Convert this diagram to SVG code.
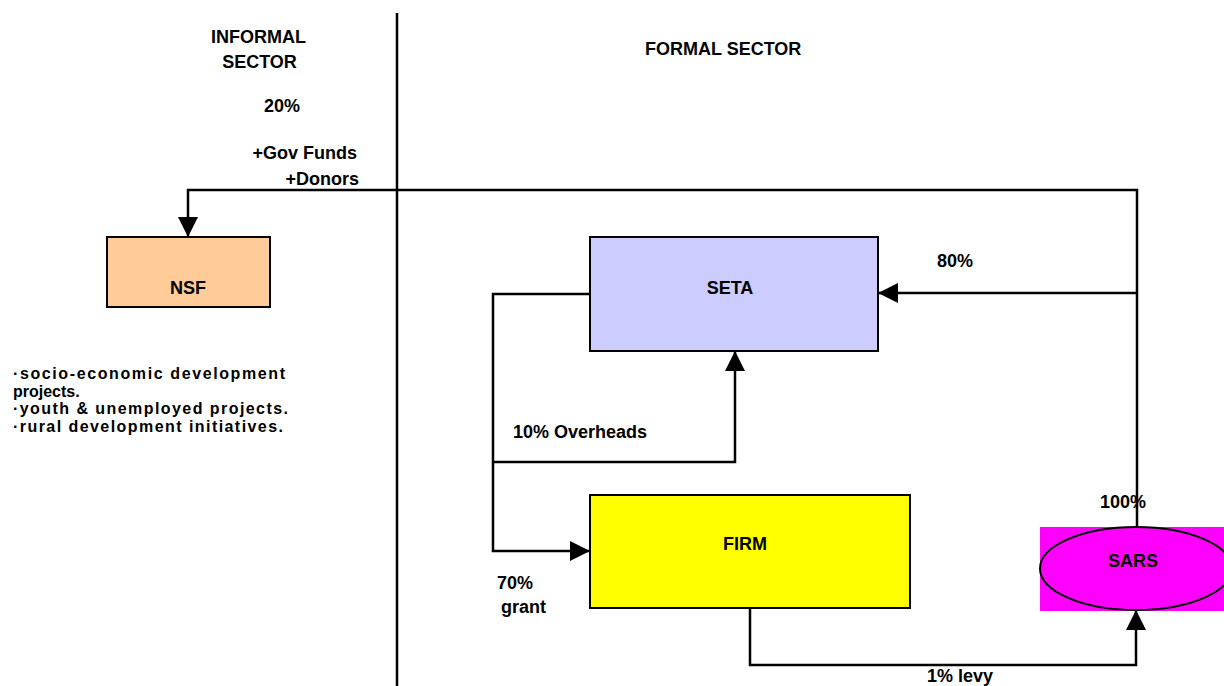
<svg xmlns="http://www.w3.org/2000/svg" width="1224" height="686" viewBox="0 0 1224 686">
<style>
.t{font-family:"Liberation Sans",Arial,sans-serif;font-weight:bold;font-size:18px;fill:#000}
.b{font-size:16px}
.c{text-anchor:middle}
.box{stroke:#000;stroke-width:2}
.ln{fill:none;stroke:#000;stroke-width:2.5}
</style>
<defs>
<marker id="ah" markerUnits="userSpaceOnUse" markerWidth="20" markerHeight="20" viewBox="0 0 20 20" refX="20" refY="10" orient="auto">
<path d="M0,0 L20,10 L0,20 Z" fill="#000"/>
</marker>
</defs>
<rect width="1224" height="686" fill="#fff"/>
<line x1="397" y1="13" x2="397" y2="686" stroke="#000" stroke-width="2.5"/>
<g id="labels">
<text class="t c" x="258.5" y="43">INFORMAL</text>
<text class="t c" x="259.5" y="68">SECTOR</text>
<text class="t c" x="282" y="112">20%</text>
<text class="t" x="357" y="159" text-anchor="end">+Gov Funds</text>
<text class="t" x="359" y="185" text-anchor="end">+Donors</text>
<text class="t" x="645" y="55" font-size="14">FORMAL SECTOR</text>
<text class="t b" x="13" y="379" textLength="272">·socio-economic development</text>
<text class="t b" x="13" y="396.5">projects.</text>
<text class="t b" x="13" y="414" textLength="275">·youth &amp; unemployed projects.</text>
<text class="t b" x="13" y="431.5" textLength="270">·rural development initiatives.</text>
<text class="t" x="937" y="267">80%</text>
<text class="t" x="513" y="438">10% Overheads</text>
<text class="t" x="497" y="589">70%</text>
<text class="t" x="501" y="613">grant</text>
<text class="t" x="1100" y="508">100%</text>
<text class="t" x="927" y="682">1% levy</text>
</g>
<g id="connectors">
<polyline class="ln" points="1137,527 1137,190 188,190 188,237" marker-end="url(#ah)"/>
<polyline class="ln" points="1137,293 878,293" marker-end="url(#ah)"/>
<polyline class="ln" points="590,294 493,294 493,551 590,551" marker-end="url(#ah)"/>
<polyline class="ln" points="493,462 735,462 735,351" marker-end="url(#ah)"/>
<polyline class="ln" points="750,608 750,665 1136,665 1136,610" marker-end="url(#ah)"/>
</g>
<g id="nsf">
<rect class="box" x="107" y="237" width="163" height="70" fill="#FFCC99"/>
<text class="t c" x="188" y="294">NSF</text>
</g>
<g id="seta">
<rect class="box" x="590" y="237" width="288" height="114" fill="#CCCCFF"/>
<text class="t c" x="730" y="294">SETA</text>
</g>
<g id="firm">
<rect class="box" x="590" y="495" width="320" height="113" fill="#FFFF00"/>
<text class="t c" x="745" y="550">FIRM</text>
</g>
<g id="sars">
<rect x="1040" y="527" width="184" height="84" fill="#FF00FF"/>
<ellipse cx="1136" cy="568.5" rx="96" ry="41.5" fill="#FF00FF" stroke="#000" stroke-width="2"/>
<text class="t c" x="1133" y="567">SARS</text>
</g>
</svg>
